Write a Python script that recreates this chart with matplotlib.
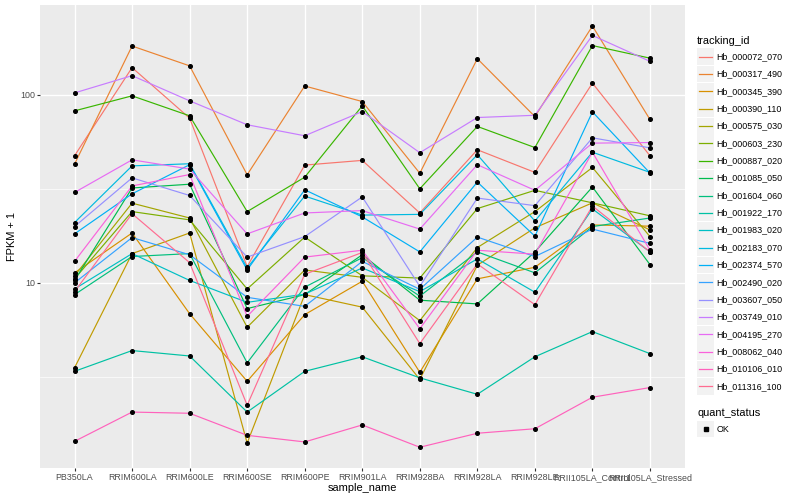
import numpy as np
import matplotlib
matplotlib.use("Agg")
import matplotlib.pyplot as plt
from matplotlib.patches import Rectangle
from matplotlib.lines import Line2D

plt.rcParams["font.family"] = ["Liberation Sans", "DejaVu Sans"]

samples = ["PB350LA", "RRIM600LA", "RRIM600LE", "RRIM600SE", "RRIM600PE", "RRIM901LA",
           "RRIM928BA", "RRIM928LA", "RRIM928LE", "RRII105LA_Control", "RRII105LA_Stressed"]

# FPKM + 1, one list per gene, in sample order
Hb_000072_070 = [47.3, 139, 74.9, 12.2, 42.2, 44.7, 23.5, 50.9, 38.6, 115, 47.3]
Hb_000317_490 = [42.7, 181, 142, 37.5, 111, 91.8, 38.2, 155, 76.4, 231, 73.7]
Hb_000345_390 = [11.3, 18.4, 6.86, 3.00, 6.78, 10.2, 3.35, 10.5, 12.1, 20.3, 20.0]
Hb_000390_110 = [3.54, 14.3, 18.4, 1.41, 8.66, 7.43, 3.07, 12.4, 19.6, 26.6, 19.1]
Hb_000575_030 = [10.9, 26.5, 22.1, 5.81, 11.7, 10.7, 6.30, 15.4, 23.9, 41.0, 17.6]
Hb_000603_230 = [10.5, 23.9, 21.6, 9.28, 17.5, 10.9, 10.6, 24.8, 31.0, 26.6, 22.7]
Hb_000887_020 = [81.9, 98.4, 77.1, 23.9, 36.4, 87.1, 31.6, 67.7, 52.3, 182, 156]
Hb_001085_050 = [10.3, 31.9, 33.4, 7.30, 8.66, 14.1, 8.09, 7.73, 14.6, 32.3, 12.5]
Hb_001604_060 = [8.66, 13.8, 14.3, 3.76, 9.49, 13.6, 8.50, 14.6, 11.3, 19.9, 22.1]
Hb_001922_170 = [3.39, 4.37, 4.09, 2.06, 3.39, 4.05, 3.13, 2.56, 4.05, 5.51, 4.21]
Hb_001983_020 = [9.28, 14.3, 10.3, 7.88, 8.71, 12.0, 8.98, 13.4, 8.92, 24.7, 14.6]
Hb_002183_070 = [20.9, 41.8, 42.9, 12.0, 28.9, 22.9, 23.1, 47.9, 21.3, 49.4, 38.6]
Hb_002374_570 = [18.2, 29.7, 42.4, 11.7, 31.2, 22.4, 14.6, 34.3, 17.7, 80.9, 38.3]
Hb_002490_020 = [10.0, 17.4, 14.1, 8.38, 7.50, 13.0, 9.24, 17.5, 13.8, 19.3, 16.2]
Hb_003607_050 = [19.9, 36.1, 29.1, 13.7, 17.6, 28.6, 9.58, 28.2, 25.7, 58.9, 52.1]
Hb_003749_010 = [102, 126, 92.6, 69.1, 60.4, 81.2, 49.1, 75.5, 77.6, 206, 150]
Hb_004195_270 = [30.2, 45.0, 40.2, 18.2, 23.5, 24.2, 19.3, 42.4, 31.0, 55.2, 55.6]
Hb_008062_040 = [13.0, 32.7, 37.6, 6.64, 13.7, 14.9, 5.71, 14.9, 14.2, 49.4, 14.9]
Hb_010106_010 = [1.44, 2.06, 2.03, 1.55, 1.43, 1.76, 1.34, 1.59, 1.68, 2.47, 2.78]
Hb_011316_100 = [8.98, 23.3, 12.8, 2.24, 11.1, 14.5, 4.76, 12.6, 7.66, 25.6, 14.6]

tracking_ids = ["Hb_000072_070", "Hb_000317_490", "Hb_000345_390", "Hb_000390_110", "Hb_000575_030",
                "Hb_000603_230", "Hb_000887_020", "Hb_001085_050", "Hb_001604_060", "Hb_001922_170",
                "Hb_001983_020", "Hb_002183_070", "Hb_002374_570", "Hb_002490_020", "Hb_003607_050",
                "Hb_003749_010", "Hb_004195_270", "Hb_008062_040", "Hb_010106_010", "Hb_011316_100"]
values = [Hb_000072_070, Hb_000317_490, Hb_000345_390, Hb_000390_110, Hb_000575_030,
          Hb_000603_230, Hb_000887_020, Hb_001085_050, Hb_001604_060, Hb_001922_170,
          Hb_001983_020, Hb_002183_070, Hb_002374_570, Hb_002490_020, Hb_003607_050,
          Hb_003749_010, Hb_004195_270, Hb_008062_040, Hb_010106_010, Hb_011316_100]

colors = ["#F8766D", "#EA8331", "#D89000", "#C09B00", "#A3A500", "#7CAE00", "#39B600",
          "#00BB4E", "#00BF7D", "#00C1A3", "#00BFC4", "#00BAE0", "#00B0F6", "#35A2FF",
          "#9590FF", "#C77CFF", "#E76BF3", "#FA62DB", "#FF62BC", "#FF6C91"]

fig = plt.figure(figsize=(8, 5), dpi=100)
ax = fig.add_axes([40/800, 1-468.3/500, 644.5/800, 463.3/500])
ax.set_facecolor("#EBEBEB")

x = np.arange(len(samples))
for vals, c in zip(values, colors):
    ax.plot(x, vals, color=c, lw=0.85, zorder=2)
for vals in values:
    ax.plot(x, vals, ls="none", marker="o", ms=2.6, color="black", zorder=3)

ax.set_yscale("log")
allv = np.concatenate([np.array(v) for v in values])
lo, hi = np.log10(allv.min()), np.log10(allv.max())
pad = 0.05 * (hi - lo)
ax.set_ylim(10**(lo - pad), 10**(hi + pad))
ax.set_xlim(-0.6, len(samples) - 0.4)

ax.set_yticks([10, 100])
ax.set_yticklabels(["10", "100"])
ax.yaxis.set_minor_locator(matplotlib.ticker.FixedLocator([10**0.5, 10**1.5]))
ax.yaxis.set_minor_formatter(matplotlib.ticker.NullFormatter())
ax.set_xticks(x)
ax.set_xticklabels(samples)
ax.tick_params(which="major", length=2, width=0.8, color="#333333", labelcolor="#4D4D4D",
               labelsize=6.4, pad=1.6)
ax.tick_params(which="minor", length=0)
ax.grid(which="major", color="white", lw=1.0)
ax.grid(which="minor", color="white", lw=0.5)
ax.set_axisbelow(True)
for s in ax.spines.values():
    s.set_visible(False)

fig.text(362.5/800, 1-488.3/500, "sample_name", ha="center", va="center", fontsize=7.9)
fig.text(12/800, 1-236.5/500, "FPKM + 1", ha="center", va="center", rotation=90, fontsize=7.9)

# legend drawn in pixel coordinates
lg = fig.add_axes([690/800, 0, 110/800, 1])
lg.set_xlim(690, 800)
lg.set_ylim(500, 0)
lg.axis("off")
lg.text(697, 40.7, "tracking_id", va="center", ha="left", fontsize=7.9)
for i, (tid, c) in enumerate(zip(tracking_ids, colors)):
    yc = 56.7 + 17.35 * i
    lg.add_patch(Rectangle((697.3, yc - 8.4), 16.6, 16.8, fc="#F2F2F2", ec="none"))
    lg.add_line(Line2D([698.8, 711.6], [yc, yc], color=c, lw=0.9))
    lg.text(716.5, yc, tid, va="center", ha="left", fontsize=6.4)
lg.text(697, 412.7, "quant_status", va="center", ha="left", fontsize=7.9)
lg.add_patch(Rectangle((697.3, 420.6), 16.6, 16.8, fc="#F2F2F2", ec="none"))
lg.plot([705.6], [429], marker="s", ms=2.2, color="black")
lg.text(716.5, 429, "OK", va="center", ha="left", fontsize=6.4)

fig.savefig("out.png", dpi=100)
